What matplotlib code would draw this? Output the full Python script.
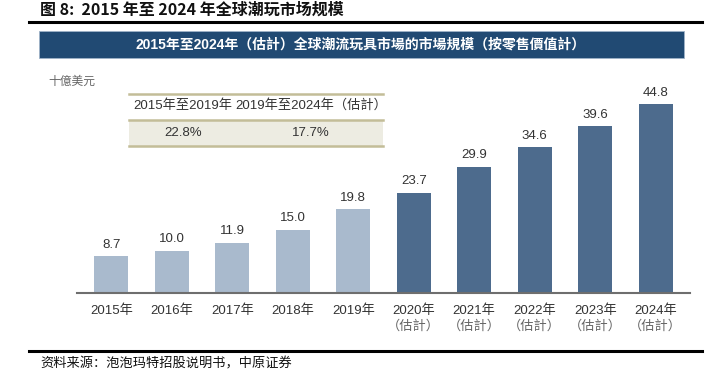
import matplotlib
matplotlib.use("Agg")
import matplotlib.pyplot as plt
from matplotlib.patches import Rectangle
from matplotlib.lines import Line2D

plt.rcParams['font.family'] = ['Liberation Sans', 'Noto Sans CJK SC', 'DejaVu Sans']

years = ["2015年", "2016年", "2017年", "2018年", "2019年",
         "2020年", "2021年", "2022年", "2023年", "2024年"]
estimated = [False] * 5 + [True] * 5
values = [8.7, 10.0, 11.9, 15.0, 19.8, 23.7, 29.9, 34.6, 39.6, 44.8]
cagr_headers = ["2015年至2019年", "2019年至2024年（估計）"]
cagr_values = ["22.8%", "17.7%"]

W, H = 715, 388
fig = plt.figure(figsize=(W / 100, H / 100), dpi=100)

def fx(x):
    return x / W

def fy(y):
    return 1 - y / H

light = "#A9BACD"
dark = "#4D6B8D"

# axes
ax_left, ax_right = 77, 690
base_y, top_y = 292.5, 82.5
ax = fig.add_axes([fx(ax_left), fy(base_y), (ax_right - ax_left) / W, (base_y - top_y) / H])
x = list(range(len(values)))
colors = [dark if e else light for e in estimated]
ax.bar(x, values, width=0.56, color=colors, zorder=2)
ax.set_xlim(-0.567, 9.567)
ax.set_ylim(0, 50)
for s in ["top", "right", "left"]:
    ax.spines[s].set_visible(False)
ax.spines["bottom"].set_color("#6e6e6e")
ax.spines["bottom"].set_linewidth(1.5)
ax.set_yticks([])
ax.set_xticks(x)
ax.set_xticklabels([])
ax.tick_params(axis="x", length=0)
for i, v in enumerate(values):
    ax.text(i, v + 1.3, f"{v:.1f}", ha="center", va="bottom", fontsize=9.5, color="#333333")
for i, (lab, e) in enumerate(zip(years, estimated)):
    ax.text(i, -4.35, lab, ha="center", va="center", fontsize=9.5, color="#333333",
            transform=ax.transData, clip_on=False)
    if e:
        ax.text(i, -8.1, "（估計）", ha="center", va="center", fontsize=9.5, color="#666666",
                transform=ax.transData, clip_on=False)

# title and rules
fig.text(fx(40), fy(10), "图 8:  2015 年至 2024 年全球潮玩市场规模", fontsize=11.5,
         fontweight="bold", ha="left", va="center", color="#111111",
         family=['Noto Sans CJK SC', 'DejaVu Sans'])
fig.add_artist(Line2D([fx(29), fx(702)], [fy(21.5), fy(21.5)], color="black", lw=2.2))
fig.add_artist(Line2D([fx(29), fx(702)], [fy(350.5), fy(350.5)], color="black", lw=2.2))
fig.text(fx(40), fy(364), "资料来源：泡泡玛特招股说明书，中原证券", fontsize=9.5,
         ha="left", va="center", color="#111111", family=['Noto Sans CJK SC', 'DejaVu Sans'])

# banner
fig.add_artist(Rectangle((fx(39), fy(58)), (684 - 39) / W, 27 / H, transform=fig.transFigure,
                         facecolor="#214A73", edgecolor="#9fb3c8", lw=0.6))
fig.text(fx(361), fy(44.5), "2015年至2024年（估計）全球潮流玩具市場的市場規模（按零售價值計）",
         fontsize=10, fontweight="bold", color="white", ha="center", va="center")

# unit
fig.text(fx(48), fy(82), "十億美元", fontsize=8.5, color="#666666", ha="left", va="center")

# CAGR table
tx0, tx1 = 128.5, 383
fig.add_artist(Rectangle((fx(tx0), fy(146)), (tx1 - tx0) / W, 26 / H, transform=fig.transFigure,
                         facecolor="#EDECE2", edgecolor="none"))
for yy in [93.5, 120, 146]:
    fig.add_artist(Line2D([fx(tx0), fx(tx1)], [fy(yy), fy(yy)], color="#C3BD98", lw=1.8))
col_x = [183, 311]
for cx, hdr, val in zip(col_x, cagr_headers, cagr_values):
    fig.text(fx(cx), fy(105.5), hdr, fontsize=9.5, color="#333333", ha="center", va="center")
    fig.text(fx(cx), fy(133), val, fontsize=9.5, color="#333333", ha="center", va="center")

fig.savefig("out.png", dpi=100)
